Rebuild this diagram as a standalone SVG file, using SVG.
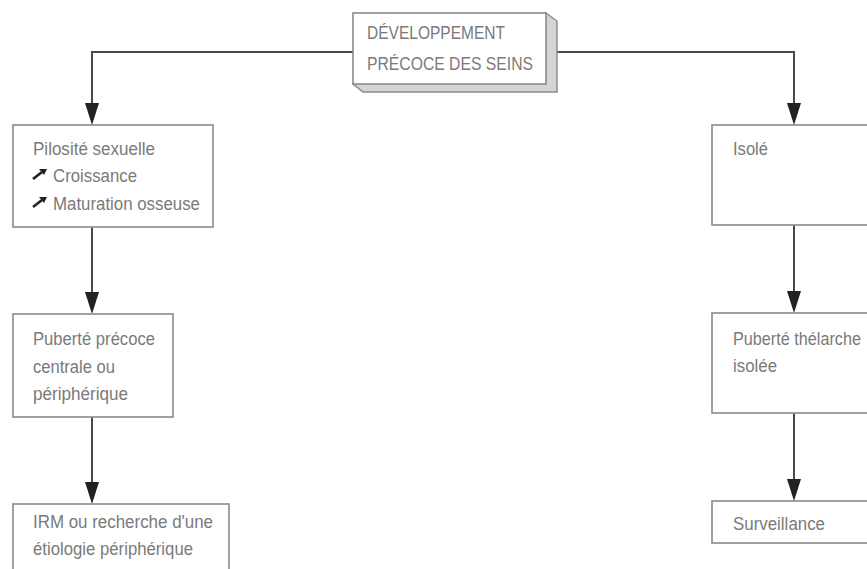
<svg xmlns="http://www.w3.org/2000/svg" width="867" height="569" viewBox="0 0 867 569">
  <defs>
    <style>
      .box { fill: #ffffff; stroke: #8a8a8a; stroke-width: 1.6; }
      .wire { fill: none; stroke: #4a4a4a; stroke-width: 2; }
      .head { fill: #222222; }
      .lbl { font-family: "Liberation Sans", Arial, sans-serif; font-size: 17.5px; fill: #7a7a7a; }
    </style>
    <!-- small rising-arrow bullet -->
    <g id="up-right">
      <path d="M0,10 L9,3" stroke="#222" stroke-width="2.6" fill="none"/>
      <path d="M6,0 L14,0 L11,6 Z" fill="#222"/>
    </g>
  </defs>

  <rect x="0" y="0" width="867" height="569" fill="#ffffff"/>

  <!-- connectors -->
  <g id="connectors">
    <path class="wire" d="M353,52 H92 V103"/>
    <path class="wire" d="M546,52 H794 V103"/>
    <line class="wire" x1="92" y1="227" x2="92" y2="292"/>
    <line class="wire" x1="92" y1="417" x2="92" y2="482"/>
    <line class="wire" x1="794" y1="225" x2="794" y2="291"/>
    <line class="wire" x1="794" y1="413" x2="794" y2="479"/>
    <path class="head" d="M85,103 L99,103 L92,125 Z"/>
    <path class="head" d="M85,292 L99,292 L92,314 Z"/>
    <path class="head" d="M85,482 L99,482 L92,504 Z"/>
    <path class="head" d="M787,103 L801,103 L794,125 Z"/>
    <path class="head" d="M787,291 L801,291 L794,313 Z"/>
    <path class="head" d="M787,479 L801,479 L794,501 Z"/>
  </g>

  <!-- root node with extruded edge -->
  <g id="root">
    <path d="M546,13 L557,21 L557,92 L363,92 L353,84 Z" fill="#d4d4d4" stroke="#8a8a8a" stroke-width="1.4"/>
    <rect class="box" x="353" y="13" width="193" height="71"/>
    <text class="lbl" x="367" y="39" textLength="138" lengthAdjust="spacingAndGlyphs">DÉVELOPPEMENT</text>
    <text class="lbl" x="367" y="70" textLength="166" lengthAdjust="spacingAndGlyphs">PRÉCOCE DES SEINS</text>
  </g>

  <g id="pilosite">
    <rect class="box" x="13" y="125" width="200" height="102"/>
    <text class="lbl" x="33" y="155" textLength="122" lengthAdjust="spacingAndGlyphs">Pilosité sexuelle</text>
    <use href="#up-right" x="33" y="169"/>
    <text class="lbl" x="53" y="182" textLength="84" lengthAdjust="spacingAndGlyphs">Croissance</text>
    <use href="#up-right" x="33" y="197"/>
    <text class="lbl" x="53" y="210" textLength="147" lengthAdjust="spacingAndGlyphs">Maturation osseuse</text>
  </g>

  <g id="puberte-precoce">
    <rect class="box" x="13" y="314" width="160" height="103"/>
    <text class="lbl" x="33" y="345" textLength="122" lengthAdjust="spacingAndGlyphs">Puberté précoce</text>
    <text class="lbl" x="33" y="373" textLength="82" lengthAdjust="spacingAndGlyphs">centrale ou</text>
    <text class="lbl" x="33" y="400" textLength="95" lengthAdjust="spacingAndGlyphs">périphérique</text>
  </g>

  <g id="irm">
    <rect class="box" x="13" y="504" width="216" height="80"/>
    <text class="lbl" x="33" y="528" textLength="180" lengthAdjust="spacingAndGlyphs">IRM ou recherche d'une</text>
    <text class="lbl" x="33" y="555" textLength="160" lengthAdjust="spacingAndGlyphs">étiologie périphérique</text>
  </g>

  <g id="isole">
    <rect class="box" x="712" y="125" width="170" height="100"/>
    <text class="lbl" x="733" y="155" textLength="35" lengthAdjust="spacingAndGlyphs">Isolé</text>
  </g>

  <g id="thelarche">
    <rect class="box" x="712" y="313" width="170" height="100"/>
    <text class="lbl" x="733" y="345" textLength="128" lengthAdjust="spacingAndGlyphs">Puberté thélarche</text>
    <text class="lbl" x="733" y="372" textLength="44" lengthAdjust="spacingAndGlyphs">isolée</text>
  </g>

  <g id="surveillance">
    <rect class="box" x="712" y="501" width="170" height="42"/>
    <text class="lbl" x="733" y="530" textLength="92" lengthAdjust="spacingAndGlyphs">Surveillance</text>
  </g>
</svg>
